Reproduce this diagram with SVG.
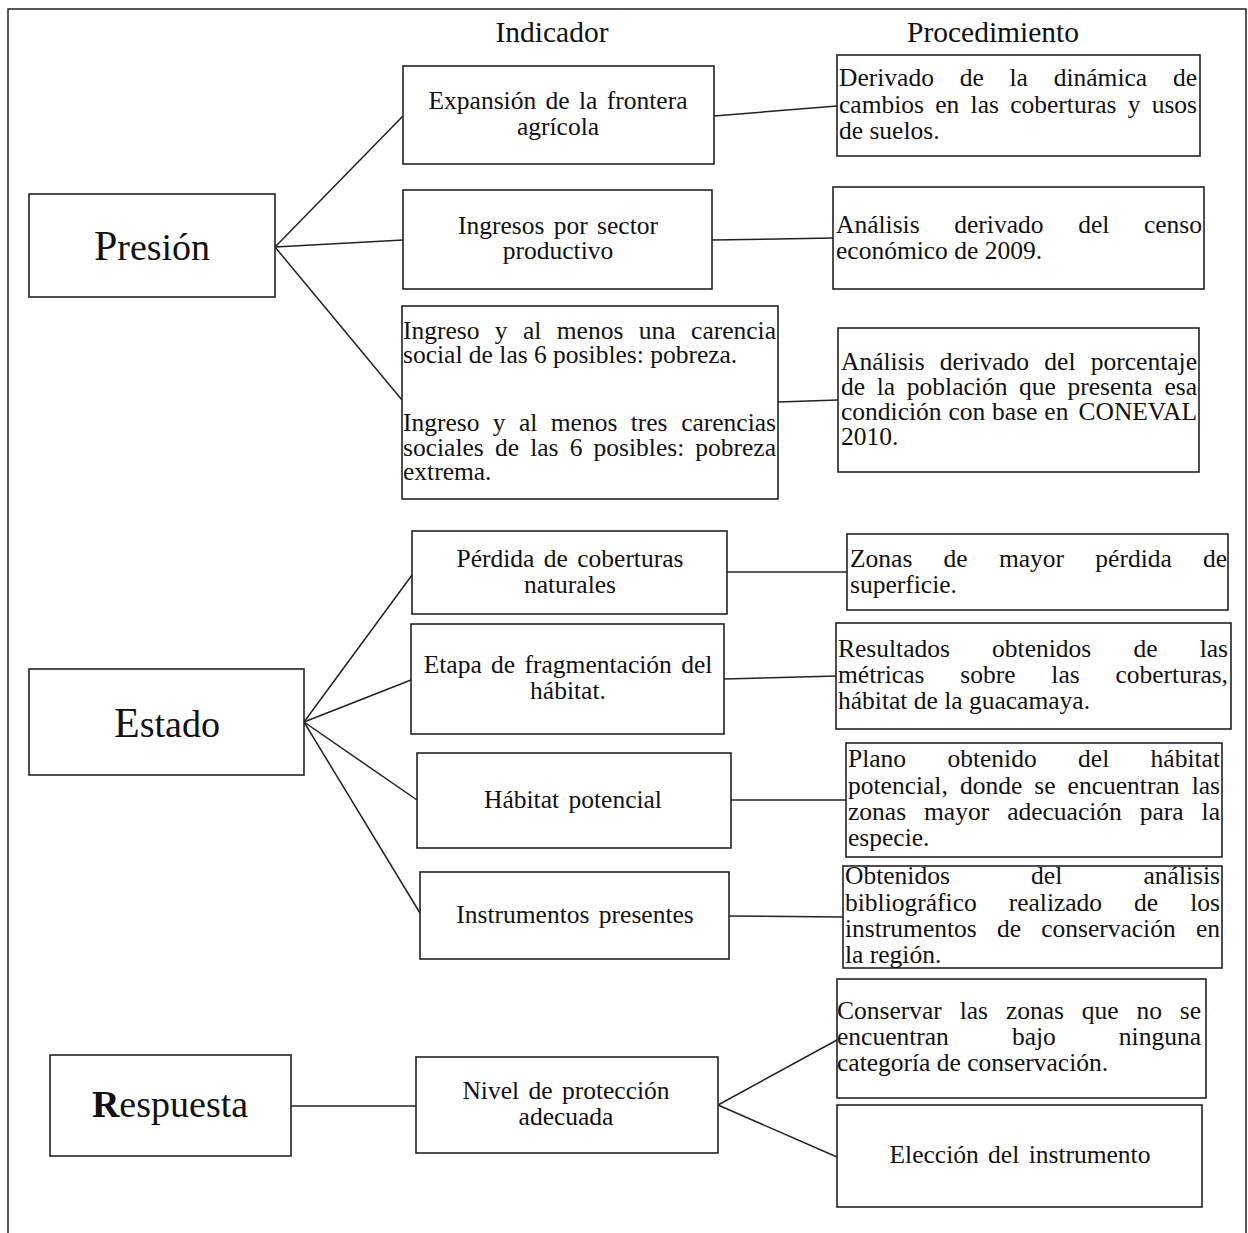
<svg xmlns="http://www.w3.org/2000/svg" width="1248" height="1233" viewBox="0 0 1248 1233">
<style>
.box{fill:#fff;stroke:#222;stroke-width:1.6}
.ln{stroke:#222;stroke-width:1.5;fill:none}
.t{font-family:"Liberation Serif","Times New Roman",serif;font-size:25.5px;fill:#111}
.m{text-anchor:middle;word-spacing:3px}
.e{text-anchor:end}
.big{font-family:"Liberation Serif","Times New Roman",serif;font-size:38px;fill:#111;text-anchor:middle}
.hd{font-family:"Liberation Serif","Times New Roman",serif;font-size:29.5px;fill:#111;text-anchor:middle}
</style>
<rect x="0" y="0" width="1248" height="1233" fill="#fff"/>
<path class="ln" d="M8,1233 V9 H1246 V1233"/>
<g id="headers">
<text class="hd" x="552" y="42">Indicador</text>
<text class="hd" x="993" y="42">Procedimiento</text>
</g>
<g id="connectors">
<line class="ln" x1="275" y1="247" x2="403" y2="116"/>
<line class="ln" x1="275" y1="247" x2="403" y2="240"/>
<line class="ln" x1="275" y1="247" x2="402" y2="400"/>
<line class="ln" x1="714" y1="116" x2="837" y2="106"/>
<line class="ln" x1="712" y1="240" x2="833" y2="238"/>
<line class="ln" x1="778" y1="402" x2="838" y2="400"/>
<line class="ln" x1="304" y1="722" x2="412" y2="575"/>
<line class="ln" x1="304" y1="722" x2="411" y2="680"/>
<line class="ln" x1="304" y1="722" x2="417" y2="800"/>
<line class="ln" x1="304" y1="722" x2="420" y2="913"/>
<line class="ln" x1="727" y1="572" x2="847" y2="572"/>
<line class="ln" x1="724" y1="679" x2="836" y2="676"/>
<line class="ln" x1="731" y1="800" x2="846" y2="800"/>
<line class="ln" x1="729" y1="916" x2="843" y2="917"/>
<line class="ln" x1="291" y1="1106" x2="416" y2="1106"/>
<line class="ln" x1="718" y1="1105" x2="837" y2="1040"/>
<line class="ln" x1="718" y1="1105" x2="837" y2="1157"/>
</g>
<g id="presion">
<rect class="box" x="29" y="194" width="246" height="103"/>
<text class="big" x="152" y="260"><tspan font-size="42">P</tspan>resión</text>
</g>
<g id="estado">
<rect class="box" x="29" y="669" width="275" height="106"/>
<text class="big" x="167" y="737"><tspan font-size="42">E</tspan>stado</text>
</g>
<g id="respuesta">
<rect class="box" x="50" y="1055" width="241" height="101"/>
<text class="big" x="170" y="1117" font-size="36"><tspan font-weight="bold">R</tspan>espuesta</text>
</g>
<g id="ind-expansion">
<rect class="box" x="403" y="66" width="311" height="98"/>
<text class="t m" x="558" y="109">Expansión de la frontera</text>
<text class="t m" x="558" y="135">agrícola</text>
</g>
<g id="ind-ingresos">
<rect class="box" x="403" y="190" width="309" height="99"/>
<text class="t m" x="558" y="234">Ingresos por sector</text>
<text class="t m" x="558" y="259">productivo</text>
</g>
<g id="ind-pobreza">
<rect class="box" x="402" y="306" width="376" height="193"/>
<text class="t" x="403" y="339" word-spacing="9">Ingreso y al menos una</text>
<text class="t e" x="776" y="339">carencia</text>
<text class="t" x="403" y="363">social de las 6 posibles: pobreza.</text>
<text class="t" x="403" y="431" word-spacing="7">Ingreso y al menos tres</text>
<text class="t e" x="776" y="431">carencias</text>
<text class="t" x="403" y="456" word-spacing="4.8">sociales de las 6 posibles:</text>
<text class="t e" x="776" y="456">pobreza</text>
<text class="t" x="403" y="480">extrema.</text>
</g>
<g id="proc-derivado">
<rect class="box" x="837" y="55" width="363" height="101"/>
<text class="t" x="839" y="86" word-spacing="19.4">Derivado de la dinámica</text>
<text class="t e" x="1197" y="86">de</text>
<text class="t" x="839" y="113" word-spacing="4.9">cambios en las coberturas y</text>
<text class="t e" x="1197" y="113">usos</text>
<text class="t" x="839" y="139">de suelos.</text>
</g>
<g id="proc-censo">
<rect class="box" x="833" y="187" width="371" height="102"/>
<text class="t" x="836" y="233" word-spacing="28.3">Análisis derivado del</text>
<text class="t e" x="1202" y="233">censo</text>
<text class="t" x="836" y="259">económico de 2009.</text>
</g>
<g id="proc-coneval">
<rect class="box" x="838" y="328" width="361" height="144"/>
<text class="t" x="841" y="370" word-spacing="8.9">Análisis derivado del</text>
<text class="t e" x="1197" y="370">porcentaje</text>
<text class="t" x="841" y="395" word-spacing="5.3">de la población que presenta</text>
<text class="t e" x="1197" y="395">esa</text>
<text class="t" x="841" y="420" word-spacing="0.5">condición con base en</text>
<text class="t e" x="1197" y="420">CONEVAL</text>
<text class="t" x="841" y="445">2010.</text>
</g>
<g id="ind-perdida">
<rect class="box" x="412" y="531" width="315" height="83"/>
<text class="t m" x="570" y="567">Pérdida de coberturas</text>
<text class="t m" x="570" y="593">naturales</text>
</g>
<g id="ind-fragmentacion">
<rect class="box" x="411" y="624" width="313" height="110"/>
<text class="t m" x="568" y="673">Etapa de fragmentación del</text>
<text class="t m" x="568" y="699">hábitat.</text>
</g>
<g id="ind-habitat">
<rect class="box" x="417" y="753" width="314" height="95"/>
<text class="t m" x="573" y="808">Hábitat potencial</text>
</g>
<g id="ind-instrumentos">
<rect class="box" x="420" y="872" width="309" height="87"/>
<text class="t m" x="575" y="923">Instrumentos presentes</text>
</g>
<g id="proc-zonas">
<rect class="box" x="847" y="534" width="381" height="76"/>
<text class="t" x="850" y="567" word-spacing="24.9">Zonas de mayor pérdida</text>
<text class="t e" x="1227" y="567">de</text>
<text class="t" x="850" y="593">superficie.</text>
</g>
<g id="proc-metricas">
<rect class="box" x="836" y="623" width="395" height="106"/>
<text class="t" x="838" y="657" word-spacing="35.8">Resultados obtenidos de</text>
<text class="t e" x="1228" y="657">las</text>
<text class="t" x="838" y="683" word-spacing="29.5">métricas sobre las</text>
<text class="t e" x="1228" y="683">coberturas,</text>
<text class="t" x="838" y="709">hábitat de la guacamaya.</text>
</g>
<g id="proc-plano">
<rect class="box" x="846" y="743" width="376" height="114"/>
<text class="t" x="848" y="767" word-spacing="35">Plano obtenido del</text>
<text class="t e" x="1220" y="767">hábitat</text>
<text class="t" x="848" y="794" word-spacing="5.7">potencial, donde se encuentran</text>
<text class="t e" x="1220" y="794">las</text>
<text class="t" x="848" y="820" word-spacing="11.6">zonas mayor adecuación para</text>
<text class="t e" x="1220" y="820">la</text>
<text class="t" x="848" y="846">especie.</text>
</g>
<g id="proc-bibliografico">
<rect class="box" x="843" y="866" width="379" height="102"/>
<text class="t" x="845" y="884" word-spacing="74.9">Obtenidos del</text>
<text class="t e" x="1220" y="884">análisis</text>
<text class="t" x="845" y="911" word-spacing="25.6">bibliográfico realizado de</text>
<text class="t e" x="1220" y="911">los</text>
<text class="t" x="845" y="937" word-spacing="13.8">instrumentos de conservación</text>
<text class="t e" x="1220" y="937">en</text>
<text class="t" x="845" y="963">la región.</text>
</g>
<g id="ind-nivel">
<rect class="box" x="416" y="1057" width="302" height="96"/>
<text class="t m" x="566" y="1099">Nivel de protección</text>
<text class="t m" x="566" y="1125">adecuada</text>
</g>
<g id="proc-conservar">
<rect class="box" x="837" y="979" width="369" height="119"/>
<text class="t" x="837" y="1019" word-spacing="11.5">Conservar las zonas que no</text>
<text class="t e" x="1201" y="1019">se</text>
<text class="t" x="837" y="1045" word-spacing="56.7">encuentran bajo</text>
<text class="t e" x="1201" y="1045">ninguna</text>
<text class="t" x="837" y="1071">categoría de conservación.</text>
</g>
<g id="proc-eleccion">
<rect class="box" x="837" y="1105" width="365" height="102"/>
<text class="t m" x="1020" y="1163">Elección del instrumento</text>
</g>
</svg>
